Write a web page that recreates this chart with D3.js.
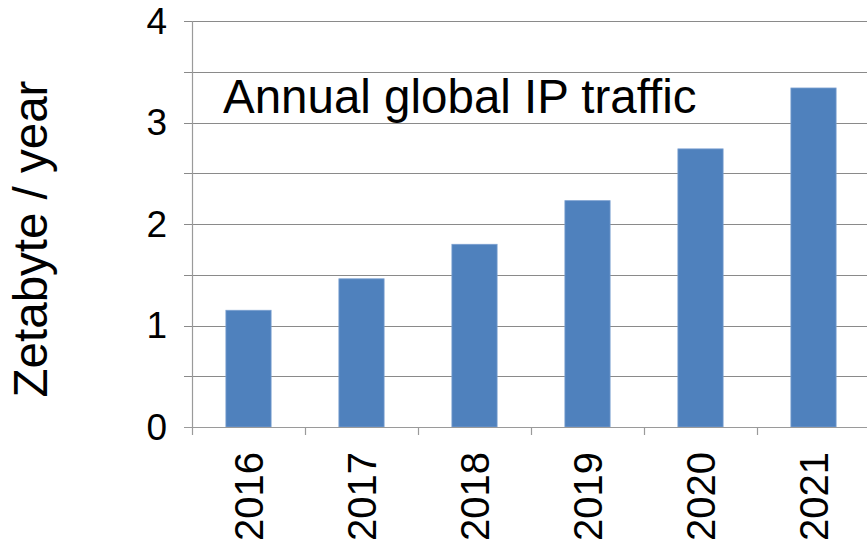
<!DOCTYPE html>
<html>
<head>
<meta charset="utf-8">
<script src="https://cdn.jsdelivr.net/npm/d3@7"></script>
<style>
  html, body { margin: 0; padding: 0; background: #fff; }
  svg { display: block; }
  text { font-family: "Liberation Sans", Arial, sans-serif; fill: #000; }
</style>
</head>
<body>
<svg id="chart" width="867" height="548"></svg>
<script>
const years = ["2016", "2017", "2018", "2019", "2020", "2021"];
const traffic = [1.15, 1.46, 1.80, 2.23, 2.74, 3.34];
const yTicks = [0, 1, 2, 3, 4];
const gridValues = [0.5, 1, 1.5, 2, 2.5, 3, 3.5, 4];
const titleText = "Annual global IP traffic";
const yAxisTitle = "Zetabyte / year";

const svg = d3.select("#chart");
const plotLeft = 192, plotRight = 870, plotTop = 21, plotBottom = 427;

const x = d3.scaleBand().domain(years).range([plotLeft, plotRight]).paddingInner(0.6).paddingOuter(0.3);
const xc = d3.scaleBand().domain(years).range([plotLeft, plotRight]);
const y = d3.scaleLinear().domain([0, 4]).range([plotBottom, plotTop]);

// gridlines
svg.append("g").selectAll("line").data(gridValues).join("line")
  .attr("x1", plotLeft - 8).attr("x2", plotRight)
  .attr("y1", d => Math.round(y(d)) + 0.5).attr("y2", d => Math.round(y(d)) + 0.5)
  .attr("stroke", "#8a8a8a").attr("stroke-width", 1.2);

// bars
svg.append("g").selectAll("rect").data(traffic).join("rect")
  .attr("x", (d, i) => x(years[i]))
  .attr("width", x.bandwidth())
  .attr("y", d => y(d))
  .attr("height", d => y(0) - y(d))
  .attr("fill", "#4F81BD")
  .attr("stroke", "#7A9FD0").attr("stroke-width", 0.8);

// y axis line
svg.append("line")
  .attr("x1", plotLeft + 0.5).attr("x2", plotLeft + 0.5)
  .attr("y1", plotTop).attr("y2", plotBottom + 8)
  .attr("stroke", "#9a9a9a").attr("stroke-width", 1.2);

// x axis line + ticks
svg.append("line")
  .attr("x1", plotLeft - 8).attr("x2", plotRight)
  .attr("y1", Math.round(y(0)) + 0.5).attr("y2", Math.round(y(0)) + 0.5)
  .attr("stroke", "#9a9a9a").attr("stroke-width", 1.2);
svg.append("g").selectAll("line").data(years.slice(1)).join("line")
  .attr("x1", d => Math.round(xc(d)) + 0.5).attr("x2", d => Math.round(xc(d)) + 0.5)
  .attr("y1", plotBottom).attr("y2", plotBottom + 8)
  .attr("stroke", "#9a9a9a").attr("stroke-width", 1.2);

// y tick labels
svg.append("g").selectAll("text").data(yTicks).join("text")
  .attr("x", 167).attr("y", d => y(d))
  .attr("dy", "0.35em")
  .attr("text-anchor", "end")
  .style("font-size", "37px")
  .text(d => d);

// x tick labels (rotated)
svg.append("g").selectAll("text").data(years).join("text")
  .attr("transform", d => `translate(${xc(d) + xc.bandwidth() / 2 + 14},452) rotate(-90)`)
  .attr("text-anchor", "end")
  .style("font-size", "40px")
  .text(d => d);

// y axis title
svg.append("text")
  .attr("transform", "translate(47,239) rotate(-90)")
  .attr("text-anchor", "middle")
  .style("font-size", "47.5px")
  .text(yAxisTitle);

// chart title inside plot
svg.append("text")
  .attr("x", 223).attr("y", 113)
  .style("font-size", "47.5px")
  .text(titleText);
</script>
</body>
</html>
